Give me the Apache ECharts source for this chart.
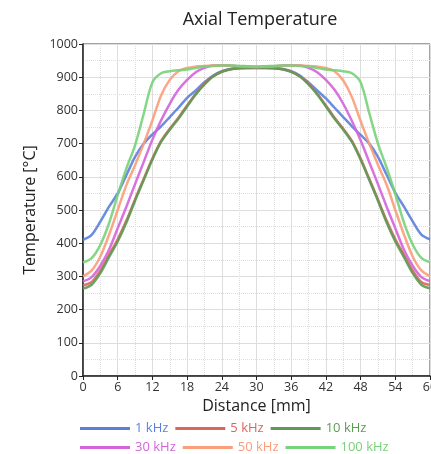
<!DOCTYPE html>
<html><head><meta charset="utf-8">
<script src="https://cdn.jsdelivr.net/npm/echarts@6/dist/echarts.min.js"></script>
<style>html,body{margin:0;padding:0;background:#fff}#c{width:431px;height:454px}</style>
</head><body><div id="c"></div>
<script>
const distance = [0,1.5,3,4.5,6,7.5,9,10.5,12,13.5,15,16.5,18,19.5,21,22.5,24,25.5,27,28.5,30,31.5,33,34.5,36,37.5,39,40.5,42,43.5,45,46.5,48,49.5,51,52.5,54,55.5,57,58.5,60];
const t1k = [410,425,465,510,550,605,660,700,728,752,780,808,838,860,885,905,918,925,928,930,930,930,928,925,918,905,884,860,836,808,780,752,726,700,660,606,552,510,466,426,412];
const t5k = [273,283,318,365,412,468,532,594,655,708,745,778,815,850,880,903,917,924,927,928,928,928,927,924,917,903,880,850,815,778,745,708,655,594,532,468,412,365,318,283,274];
const t10k = [263,275,310,358,405,462,528,590,652,705,742,775,812,848,878,902,916,924,927,928,928,928,927,924,916,902,878,848,812,775,742,705,652,590,528,462,405,358,310,275,264];
const t30k = [285,298,332,380,445,510,578,645,712,770,820,862,892,915,928,935,936,935,933,932,931,932,933,935,936,935,928,915,892,862,820,768,710,644,578,510,445,380,332,298,286];
const t50k = [300,318,360,425,500,575,635,700,770,845,892,918,928,932,934,935,935,934,933,932,931,932,933,934,935,935,934,932,928,918,890,840,768,700,636,576,500,426,360,318,301];
const t100k = [342,355,395,460,545,625,695,790,885,912,918,921,923,928,932,934,935,935,934,933,932,933,934,935,935,934,932,928,923,921,918,912,885,792,700,628,548,462,396,356,343];
const seriesNames = ['1 kHz','5 kHz','10 kHz','30 kHz','50 kHz','100 kHz'];
const seriesColors = ['#5b7fdc','#d9675c','#5e9a55','#d463dc','#fb9d7a','#78d27a'];
const seriesData = [t1k,t5k,t10k,t30k,t50k,t100k];
const xTicks = [0,6,12,18,24,30,36,42,48,54,60];

const font = 'Open Sans';
const chart = echarts.init(document.getElementById('c'));
const series = seriesNames.map((n,i)=>({
  name:n, type:'line', showSymbol:false, smooth:0.3,
  data: distance.map((x,j)=>[x, seriesData[i][j]]),
  lineStyle:{width:2.5, color:seriesColors[i], opacity:0.9},
  itemStyle:{color:seriesColors[i]}
}));
const legendItem = (i)=>({name:seriesNames[i], textStyle:{color:seriesColors[i]}});
const legendBase = {left:80, itemWidth:50, itemHeight:3, icon:'rect', itemGap:7, padding:0,
  textStyle:{fontFamily:font, fontSize:13}};
chart.setOption({
  animation:false,
  textStyle:{fontFamily:font},
  title:{text:'Axial Temperature', left:255, top:6, textAlign:'center',
    textStyle:{fontFamily:font, fontSize:18, fontWeight:'normal', color:'#222'}},
  grid:{left:83, right:1, top:44, bottom:78, outerBoundsMode:'none', containLabel:false},
  legend:[
    Object.assign({data:[0,1,2].map(legendItem), top:422}, legendBase),
    Object.assign({data:[3,4,5].map(legendItem), top:441}, legendBase)
  ],
  xAxis:{type:'value', min:0, max:60, interval:6,
    name:'Distance [mm]', nameLocation:'middle', nameGap:22,
    nameTextStyle:{fontFamily:font, fontSize:16, color:'#222'},
    axisLine:{show:true, onZero:false, lineStyle:{color:'#222', width:1.5}},
    axisTick:{show:true, length:4, lineStyle:{color:'#222'}},
    axisLabel:{fontFamily:font, fontSize:12.5, color:'#333', margin:5,
      formatter:(v)=> xTicks.includes(v) ? String(v) : ''},
    splitLine:{show:true, lineStyle:{color:'#ddd', width:1}},
    minorTick:{show:false, splitNumber:2},
    minorSplitLine:{show:true, lineStyle:{color:'#ddd', type:'dotted', width:1}}
  },
  yAxis:{type:'value', min:0, max:1000, interval:100,
    name:'Temperature [°C]', nameLocation:'middle', nameGap:37,
    nameTextStyle:{fontFamily:font, fontSize:16, color:'#222'},
    axisLine:{show:true, onZero:false, lineStyle:{color:'#222', width:1.5}},
    axisTick:{show:true, length:4, lineStyle:{color:'#222'}},
    axisLabel:{fontFamily:font, fontSize:12.5, color:'#333', margin:5,
      formatter:(v)=> String(v)},
    splitLine:{show:true, lineStyle:{color:'#ddd', width:1}},
    minorTick:{show:false, splitNumber:2},
    minorSplitLine:{show:true, lineStyle:{color:'#ddd', type:'dotted', width:1}}
  },
  graphic:[{type:'rect', shape:{x:83, y:44, width:347, height:332}, style:{fill:'none', stroke:'#444', lineWidth:1}, silent:true, z:0}],
  series: series
});
</script></body></html>
